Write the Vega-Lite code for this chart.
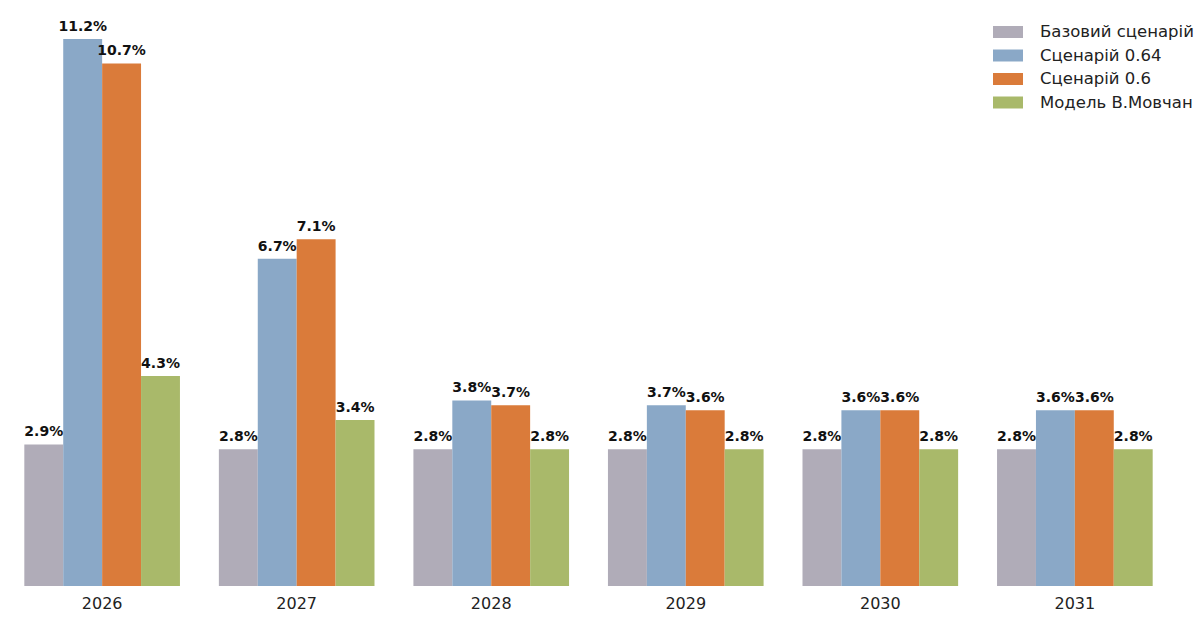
{
  "$schema": "https://vega.github.io/schema/vega-lite/v6.json",
  "autosize": "none",
  "width": 1177,
  "height": 586,
  "padding": {"left": 0, "top": 0, "right": 23, "bottom": 33},
  "background": "white",
  "config": {
    "view": {"stroke": null},
    "font": "DejaVu Sans"
  },
  "data": {
    "values": [
      {"year": "2026", "series": "Базовий сценарій", "value": 0.029},
      {"year": "2026", "series": "Сценарій 0.64", "value": 0.112},
      {"year": "2026", "series": "Сценарій 0.6", "value": 0.107},
      {"year": "2026", "series": "Модель В.Мовчан", "value": 0.043},
      {"year": "2027", "series": "Базовий сценарій", "value": 0.028},
      {"year": "2027", "series": "Сценарій 0.64", "value": 0.067},
      {"year": "2027", "series": "Сценарій 0.6", "value": 0.071},
      {"year": "2027", "series": "Модель В.Мовчан", "value": 0.034},
      {"year": "2028", "series": "Базовий сценарій", "value": 0.028},
      {"year": "2028", "series": "Сценарій 0.64", "value": 0.038},
      {"year": "2028", "series": "Сценарій 0.6", "value": 0.037},
      {"year": "2028", "series": "Модель В.Мовчан", "value": 0.028},
      {"year": "2029", "series": "Базовий сценарій", "value": 0.028},
      {"year": "2029", "series": "Сценарій 0.64", "value": 0.037},
      {"year": "2029", "series": "Сценарій 0.6", "value": 0.036},
      {"year": "2029", "series": "Модель В.Мовчан", "value": 0.028},
      {"year": "2030", "series": "Базовий сценарій", "value": 0.028},
      {"year": "2030", "series": "Сценарій 0.64", "value": 0.036},
      {"year": "2030", "series": "Сценарій 0.6", "value": 0.036},
      {"year": "2030", "series": "Модель В.Мовчан", "value": 0.028},
      {"year": "2031", "series": "Базовий сценарій", "value": 0.028},
      {"year": "2031", "series": "Сценарій 0.64", "value": 0.036},
      {"year": "2031", "series": "Сценарій 0.6", "value": 0.036},
      {"year": "2031", "series": "Модель В.Мовчан", "value": 0.028}
    ]
  },
  "encoding": {
    "x": {
      "field": "year",
      "type": "nominal",
      "scale": {"paddingInner": 0.2, "paddingOuter": 0.125},
      "axis": {
        "title": null,
        "labelAngle": 0,
        "domain": false,
        "ticks": false,
        "labelPadding": 9,
        "labelFontSize": 16,
        "labelColor": "#222222",
        "labelFont": "DejaVu Sans"
      }
    },
    "xOffset": {
      "field": "series",
      "type": "nominal",
      "sort": ["Базовий сценарій", "Сценарій 0.64", "Сценарій 0.6", "Модель В.Мовчан"],
      "scale": {"paddingInner": 0, "paddingOuter": 0}
    },
    "y": {
      "field": "value",
      "type": "quantitative",
      "scale": {"domain": [0, 0.12], "nice": false},
      "axis": null
    }
  },
  "layer": [
    {
      "mark": {"type": "bar"},
      "encoding": {
        "color": {
          "field": "series",
          "type": "nominal",
          "scale": {
            "domain": ["Базовий сценарій", "Сценарій 0.64", "Сценарій 0.6", "Модель В.Мовчан"],
            "range": ["#b0acb8", "#8aa8c7", "#da7b3a", "#a9b96a"]
          },
          "legend": {
            "title": null,
            "orient": "none",
            "legendX": 998,
            "legendY": 22,
            "symbolType": "M-1.5,-0.6H1.5V0.6H-1.5Z",
            "symbolSize": 400,
            "symbolStrokeWidth": 0,
            "symbolOpacity": 1,
            "labelFontSize": 16.5,
            "labelFont": "DejaVu Sans",
            "labelColor": "#222222",
            "labelOffset": 22,
            "rowPadding": 4.5,
            "labelLimit": 300
          }
        }
      }
    },
    {
      "mark": {
        "type": "text",
        "baseline": "bottom",
        "dy": -5,
        "fontSize": 14,
        "fontWeight": "bold",
        "font": "DejaVu Sans",
        "color": "#111111"
      },
      "encoding": {
        "text": {"field": "value", "type": "quantitative", "format": ".1%"}
      }
    }
  ]
}
